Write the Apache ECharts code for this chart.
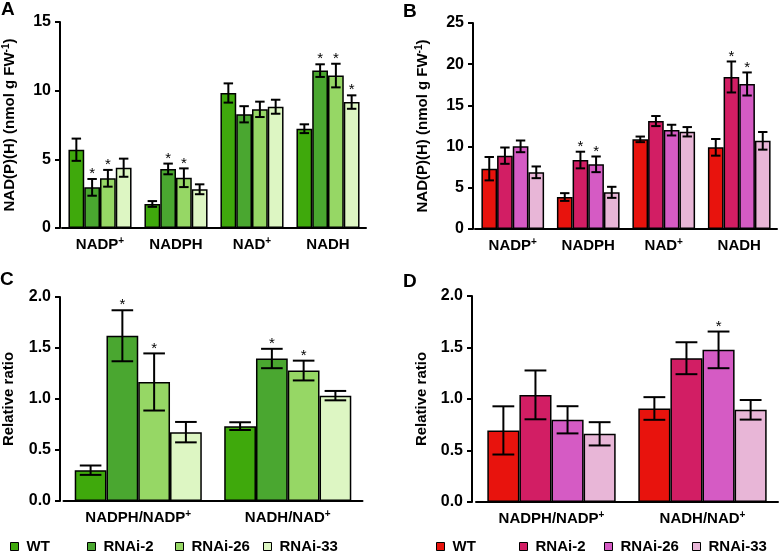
<!DOCTYPE html>
<html>
<head>
<meta charset="utf-8">
<script src="https://cdn.jsdelivr.net/npm/echarts@6/dist/echarts.min.js"></script>
<style>
html,body{margin:0;padding:0;background:#fff;}
#chart{width:783px;height:558px;}
</style>
</head>
<body>
<div id="chart"></div>
<script>
// ---------- data ----------
const catsAB = ['NADP+', 'NADPH', 'NAD+', 'NADH'];
const catsCD = ['NADPH/NADP+', 'NADH/NAD+'];
const groups = ['WT', 'RNAi-2', 'RNAi-26', 'RNAi-33'];
const ticksA = [0, 5, 10, 15];
const ticksB = [0, 5, 10, 15, 20, 25];
const ticksCD = [0, 0.5, 1.0, 1.5, 2.0];

// Panel A (green, NAD(P)(H) nmol g FW-1)
const aWT      = [5.70, 1.75, 9.83, 7.23];
const aRNAi2   = [2.96, 4.30, 8.28, 11.46];
const aRNAi26  = [3.62, 3.66, 8.64, 11.10];
const aRNAi33  = [4.39, 2.82, 8.83, 9.17];
const aErrWT     = [0.81, 0.21, 0.70, 0.32];
const aErrRNAi2  = [0.61, 0.39, 0.59, 0.46];
const aErrRNAi26 = [0.61, 0.68, 0.56, 0.86];
const aErrRNAi33 = [0.66, 0.36, 0.51, 0.49];
const aSigWT     = [0, 0, 0, 0];
const aSigRNAi2  = [1, 1, 0, 1];
const aSigRNAi26 = [1, 1, 0, 1];
const aSigRNAi33 = [0, 0, 0, 1];

// Panel B (red)
const bWT      = [7.32, 3.88, 10.88, 9.91];
const bRNAi2   = [8.90, 8.37, 13.10, 18.45];
const bRNAi26  = [10.03, 7.85, 12.00, 17.60];
const bRNAi33  = [6.88, 4.45, 11.80, 10.70];
const bErrWT     = [1.42, 0.47, 0.34, 1.01];
const bErrRNAi2  = [0.99, 1.01, 0.61, 1.88];
const bErrRNAi26 = [0.71, 0.95, 0.65, 1.40];
const bErrRNAi33 = [0.71, 0.67, 0.57, 1.07];
const bSigWT     = [0, 0, 0, 0];
const bSigRNAi2  = [0, 1, 0, 1];
const bSigRNAi26 = [0, 1, 0, 1];
const bSigRNAi33 = [0, 0, 0, 0];

// Panel C (green, relative ratio)
const cWT      = [0.302, 0.734];
const cRNAi2   = [1.620, 1.397];
const cRNAi26  = [1.167, 1.279];
const cRNAi33  = [0.675, 1.033];
const cErrWT     = [0.046, 0.038];
const cErrRNAi2  = [0.250, 0.095];
const cErrRNAi26 = [0.280, 0.097];
const cErrRNAi33 = [0.100, 0.046];
const cSigWT     = [0, 0];
const cSigRNAi2  = [1, 1];
const cSigRNAi26 = [1, 1];
const cSigRNAi33 = [0, 0];

// Panel D (red, relative ratio)
const dWT      = [0.695, 0.908];
const dRNAi2   = [1.040, 1.396];
const dRNAi26  = [0.798, 1.477];
const dRNAi33  = [0.662, 0.895];
const dErrWT     = [0.234, 0.110];
const dErrRNAi2  = [0.237, 0.155];
const dErrRNAi26 = [0.132, 0.178];
const dErrRNAi33 = [0.113, 0.095];
const dSigWT     = [0, 0];
const dSigRNAi2  = [0, 0];
const dSigRNAi26 = [0, 1];
const dSigRNAi33 = [0, 0];

// ---------- styles ----------
const greens = ['#3fa90c', '#4aa730', '#96d765', '#ddf6c3'];
const reds   = ['#e8130d', '#d21e64', '#d55bc4', '#e8b6d7'];
const FONT = "'Liberation Sans', Arial, Helvetica, sans-serif";

const nameAB = '{b|NAD(P)(H) (nmol g FW}{sup|-1}{b|)}';
const nameCD = '{b|Relative ratio}';

const panels = [
  {cats: catsAB, means: [aWT, aRNAi2, aRNAi26, aRNAi33], errs: [aErrWT, aErrRNAi2, aErrRNAi26, aErrRNAi33],
   sigs: [aSigWT, aSigRNAi2, aSigRNAi26, aSigRNAi33], colors: greens, ticks: ticksA,
   grid: {left: 62, top: 22, width: 304, height: 206}, offset: 2, gap: 0.17, cap: 0.6,
   yName: nameAB, nameGap: 41, dec: 0},
  {cats: catsAB, means: [bWT, bRNAi2, bRNAi26, bRNAi33], errs: [bErrWT, bErrRNAi2, bErrRNAi26, bErrRNAi33],
   sigs: [bSigWT, bSigRNAi2, bSigRNAi26, bSigRNAi33], colors: reds, ticks: ticksB,
   grid: {left: 475, top: 23, width: 302, height: 206}, offset: 2, gap: 0.17, cap: 0.6,
   yName: nameAB, nameGap: 41, dec: 0},
  {cats: catsCD, means: [cWT, cRNAi2, cRNAi26, cRNAi33], errs: [cErrWT, cErrRNAi2, cErrRNAi26, cErrRNAi33],
   sigs: [cSigWT, cSigRNAi2, cSigRNAi26, cSigRNAi33], colors: greens, ticks: ticksCD,
   grid: {left: 63.5, top: 297, width: 299, height: 204}, offset: 3.5, gap: 0.15, cap: 0.68,
   yName: nameCD, nameGap: 42, dec: 1},
  {cats: catsCD, means: [dWT, dRNAi2, dRNAi26, dRNAi33], errs: [dErrWT, dErrRNAi2, dErrRNAi26, dErrRNAi33],
   sigs: [dSigWT, dSigRNAi2, dSigRNAi26, dSigRNAi33], colors: reds, ticks: ticksCD,
   grid: {left: 476, top: 296, width: 302, height: 206}, offset: 4, gap: 0.15, cap: 0.68,
   yName: nameCD, nameGap: 41, dec: 1}
];

const richStyles = {
  b: {fontSize: 15, fontWeight: 'bold', fontFamily: FONT, color: '#000', lineHeight: 18},
  sup: {fontSize: 10, fontWeight: 'bold', fontFamily: FONT, color: '#000', verticalAlign: 'top', lineHeight: 10}
};

function catLabel(v) {
  return '{b|' + v.replace(/\+/g, '}{sup|+}{b|') + '}';
}

function makeRenderer(gapFrac, capFrac, n) {
  return function (params, api) {
    const c = api.value(0), m = api.value(1), e = api.value(2), g = api.value(3), s = api.value(4);
    const band = api.size([1, 0])[0];
    const bw = band * (1 - gapFrac) / n;
    const cx = api.coord([c, 0])[0] + (g - (n - 1) / 2) * bw;
    const yT = api.coord([c, m + e])[1];
    const yB = api.coord([c, m - e])[1];
    const h = bw * capFrac / 2;
    const ls = {stroke: '#000', lineWidth: 2};
    const children = [
      {type: 'line', shape: {x1: cx, y1: yT, x2: cx, y2: yB}, style: ls},
      {type: 'line', shape: {x1: cx - h, y1: yT, x2: cx + h, y2: yT}, style: ls},
      {type: 'line', shape: {x1: cx - h, y1: yB, x2: cx + h, y2: yB}, style: ls}
    ];
    if (s) {
      children.push({type: 'text', style: {text: '*', x: cx, y: yT - 5, align: 'center', verticalAlign: 'middle',
        font: '15px ' + FONT, fill: '#000'}});
    }
    return {type: 'group', children: children};
  };
}

const grids = [], xAxes = [], yAxes = [], series = [];
panels.forEach((p, pi) => {
  grids.push(p.grid);
  xAxes.push({
    type: 'category', gridIndex: pi, data: p.cats,
    axisLine: {lineStyle: {color: '#000', width: 2}},
    axisTick: {alignWithLabel: true, length: 5, lineStyle: {color: '#000', width: 2}},
    axisLabel: {interval: 0, formatter: catLabel, color: '#000', fontSize: 15, fontWeight: 'bold', fontFamily: FONT,
      margin: 8, rich: richStyles}
  });
  const tmax = p.ticks[p.ticks.length - 1];
  yAxes.push({
    type: 'value', gridIndex: pi, min: p.ticks[0], max: tmax, interval: p.ticks[1] - p.ticks[0],
    offset: p.offset,
    axisLine: {show: true, lineStyle: {color: '#000', width: 2}},
    axisTick: {show: true, length: 5, lineStyle: {color: '#000', width: 2}},
    splitLine: {show: false},
    axisLabel: {color: '#000', fontSize: 16, fontWeight: 'bold', fontFamily: FONT, margin: 9,
      formatter: v => v.toFixed(p.dec)},
    name: p.yName, nameLocation: 'middle', nameRotate: 90, nameGap: p.nameGap,
    nameTextStyle: {color: '#000', fontSize: 15, fontWeight: 'bold', fontFamily: FONT, rich: richStyles}
  });
  groups.forEach((gname, gi) => {
    series.push({
      type: 'bar', name: gname, xAxisIndex: pi, yAxisIndex: pi,
      data: p.means[gi],
      barGap: '0%', barCategoryGap: (p.gap * 100) + '%',
      itemStyle: {color: p.colors[gi], borderColor: '#000', borderWidth: 1.5},
      emphasis: {disabled: true}
    });
  });
  const eData = [];
  groups.forEach((gname, gi) => {
    p.cats.forEach((c, ci) => {
      eData.push([ci, p.means[gi][ci], p.errs[gi][ci], gi, p.sigs[gi][ci]]);
    });
  });
  series.push({
    type: 'custom', name: 'err' + pi, xAxisIndex: pi, yAxisIndex: pi, z: 10,
    renderItem: makeRenderer(p.gap, p.cap, groups.length),
    data: eData, silent: true
  });
});

// legends: one per item, fixed positions like the figure
const legendPos = [
  {colors: greens, lefts: [10, 87, 175, 263]},
  {colors: reds, lefts: [436, 519, 604, 692]}
];
const legends = [];
legendPos.forEach(lp => {
  groups.forEach((g, gi) => {
    legends.push({
      left: lp.lefts[gi], top: 539, padding: 0, itemWidth: 8, itemHeight: 8, itemGap: 0,
      selectedMode: false,
      data: [{name: g, icon: 'rect', itemStyle: {color: lp.colors[gi], borderColor: '#000', borderWidth: 1}}],
      textStyle: {color: '#000', fontSize: 15, fontWeight: 'bold', fontFamily: FONT, padding: [0, 0, 0, 3]}
    });
  });
});

const panelLetters = [
  {t: 'A', x: 1, y: 0}, {t: 'B', x: 403, y: 2}, {t: 'C', x: 0, y: 270}, {t: 'D', x: 403, y: 272}
];

const chart = echarts.init(document.getElementById('chart'), null, {renderer: 'canvas'});
chart.setOption({
  animation: false,
  backgroundColor: '#fff',
  grid: grids,
  xAxis: xAxes,
  yAxis: yAxes,
  legend: legends,
  series: series,
  graphic: panelLetters.map(l => ({
    type: 'text', left: l.x, top: l.y,
    style: {text: l.t, font: 'bold 19px ' + FONT, fill: '#000'}
  }))
});
</script>
</body>
</html>
